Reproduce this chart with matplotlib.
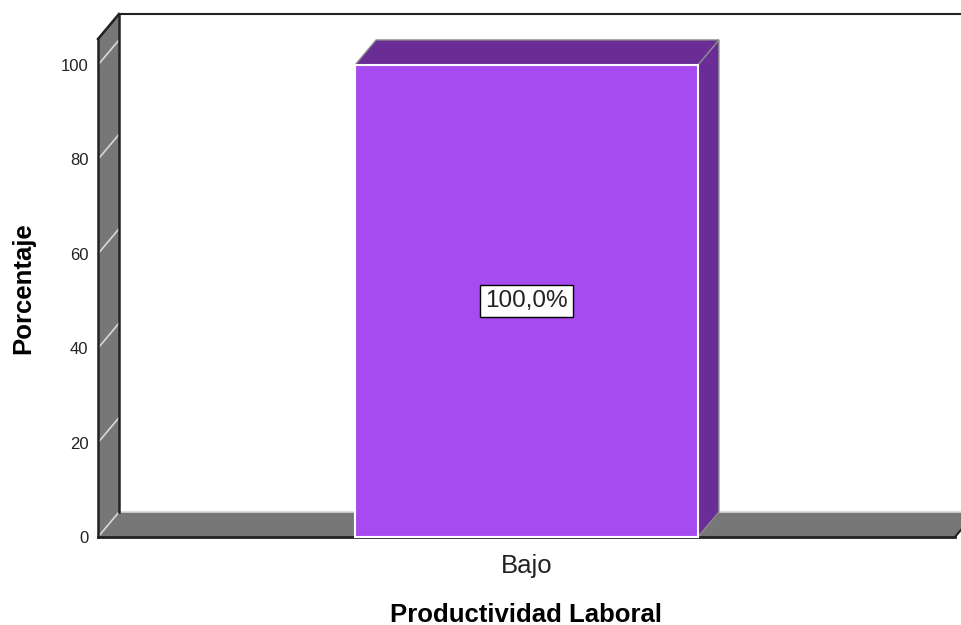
import matplotlib
matplotlib.use("Agg")
import matplotlib.pyplot as plt
from matplotlib.patches import Polygon
import numpy as np

# ---- data ----
categories = ["Bajo"]
percentages = [100.0]
bar_labels = ["100,0%"]
y_ticks = [0, 20, 40, 60, 80, 100]
x_title = "Productividad Laboral"
y_title = "Porcentaje"

plt.rcParams['font.family'] = ['Liberation Sans', 'DejaVu Sans']

W, H = 961, 625
fig = plt.figure(figsize=(W / 100, H / 100), dpi=100)

# front plane of the 3D box in pixel terms
left_px, right_px, bottom_px, top_px = 98, 955, 537, 39
ax = fig.add_axes([left_px / W, 1 - bottom_px / H,
                   (right_px - left_px) / W, (bottom_px - top_px) / H])
ymax = 105.5
ax.set_xlim(-0.5, 0.5)
ax.set_ylim(0, ymax)

# depth offset (pixels) converted to data units
dx_px, dy_px = 21, 25
ddx = dx_px / (right_px - left_px) * 1.0
ddy = dy_px / (bottom_px - top_px) * ymax

wall_c = "#777777"
edge_dark = "#222222"
grid_c = "#d8d8d8"

x0, x1 = -0.5, 0.5
# left wall
ax.add_patch(Polygon([(x0, 0), (x0, ymax), (x0 + ddx, ymax + ddy), (x0 + ddx, ddy)],
                     closed=True, fc=wall_c, ec="none", clip_on=False, zorder=1))
# floor
ax.add_patch(Polygon([(x0, 0), (x1, 0), (x1 + ddx, ddy), (x0 + ddx, ddy)],
                     closed=True, fc=wall_c, ec="none", clip_on=False, zorder=1))
# gridlines on the wall
for t in y_ticks:
    ax.plot([x0, x0 + ddx], [t, t + ddy], color=grid_c, lw=1.2, clip_on=False, zorder=2)
# floor back edge (light)
ax.plot([x0 + ddx, x1 + ddx], [ddy, ddy], color=grid_c, lw=1.2, clip_on=False, zorder=2)
# dark edges
ax.plot([x0, x0], [0, ymax], color=edge_dark, lw=1.8, clip_on=False, zorder=3)
ax.plot([x0 + ddx, x0 + ddx], [ddy, ymax + ddy], color=edge_dark, lw=1.8, clip_on=False, zorder=3)
ax.plot([x0, x0 + ddx], [ymax, ymax + ddy], color=edge_dark, lw=1.8, clip_on=False, zorder=3)
ax.plot([x0 + ddx, x1 + ddx], [ymax + ddy, ymax + ddy], color=edge_dark, lw=1.5, clip_on=False, zorder=3)
ax.plot([x0, x1], [0, 0], color=edge_dark, lw=2.0, clip_on=False, zorder=3)
ax.plot([x1, x1 + ddx], [0, ddy], color=edge_dark, lw=1.5, clip_on=False, zorder=3)

# bars
front_c = "#A64BF0"
dark_c = "#6A2D96"
bw = 0.4
xs = np.arange(len(categories))
for xi, v, lab in zip(xs, percentages, bar_labels):
    l, r = xi - bw / 2, xi + bw / 2
    # side face
    ax.add_patch(Polygon([(r, 0), (r, v), (r + ddx, v + ddy), (r + ddx, ddy)],
                         closed=True, fc=dark_c, ec="#8a8a8a", lw=1.0, clip_on=False, zorder=4))
    # top face
    ax.add_patch(Polygon([(l, v), (r, v), (r + ddx, v + ddy), (l + ddx, v + ddy)],
                         closed=True, fc=dark_c, ec="#8a8a8a", lw=1.0, clip_on=False, zorder=4))
    # front face
    ax.bar(xi, v, width=bw, color=front_c, edgecolor="white", linewidth=1.5, zorder=5, clip_on=False)
    ax.text(xi, v / 2, lab, ha="center", va="center", fontsize=17.5, color="#222222", zorder=6,
            bbox=dict(boxstyle="square,pad=0.2", fc="white", ec="black", lw=1.0))

for s in ax.spines.values():
    s.set_visible(False)
ax.set_facecolor("none")
ax.set_yticks(y_ticks)
ax.set_yticklabels([str(t) for t in y_ticks], fontsize=12, color="#222222")
ax.tick_params(axis="y", length=0, pad=7)
ax.set_xticks(xs)
ax.set_xticklabels(categories, fontsize=18.5, color="#222222")
ax.tick_params(axis="x", length=0, pad=12)
ax.set_xlabel(x_title, fontsize=18.5, fontweight="bold", labelpad=18)
ax.set_ylabel(y_title, fontsize=18.5, fontweight="bold", labelpad=18.5)

fig.savefig("out.png", dpi=100, facecolor="white")
